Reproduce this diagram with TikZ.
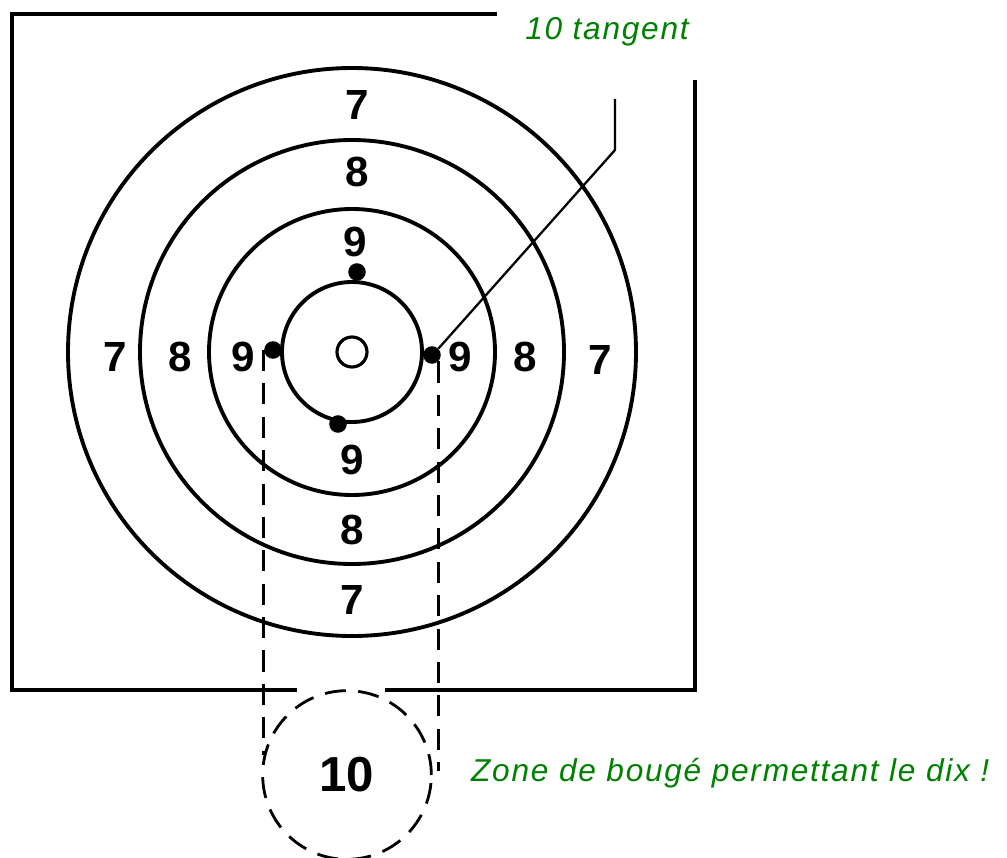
\documentclass[tikz,border=0pt]{standalone}
\usepackage{fontspec}
\setmainfont{Liberation Sans}
\newfontfamily\notefont[LetterSpace=5.5]{Liberation Sans}
\usetikzlibrary{positioning}
\definecolor{notegreen}{RGB}{0,128,0}
\tikzset{
	ring/.style={line width=2.2pt},
	hole/.style={circle, fill, inner sep=0pt, minimum size=10pt},
	score/.style={font=\fontsize{24}{24}\selectfont\bfseries},
	note/.style={font=\notefont\fontsize{18}{18}\selectfont\itshape, text=notegreen},
	guide/.style={line width=1.6pt, dash pattern=on 12pt off 7pt},
}
\begin{document}
\begin{tikzpicture}[x=0.02cm, y=-0.02cm]
	\useasboundingbox (0,0) rectangle (1007,858);
	\draw[ring] (497,14) -- (12,14) -- (12,690) -- (297,690);
	\draw[ring] (385,690) -- (695,690) -- (695,80);
	\foreach \r in {70, 143, 212, 284}
		\draw[ring] (352,352) circle (\r);
	\draw[line width=1.8pt] (352,352) circle (15);
	\foreach \x/\y/\s [count=\i] in {357/105/7, 357/172/8, 355/242/9, 115/357/7, 180/357/8, 243/357/9,
			460/357/9, 525/357/8, 600/360/7, 352/460/9, 352/530/8, 352/600/7}
		\node[score] (score\i) at (\x,\y) {\s};
	\node[hole] (hitT) at (357,272) {};
	\node[hole] (hitL) at (273,350) {};
	\node[hole] (hitR) at (432,355) {};
	\node[hole] (hitB) at (338,424) {};
	\coordinate (bend) at (615,150);
	\coordinate (tip) at (615,99);
	\draw[line width=1.3pt] (hitR.north east) -- (bend) -- (tip);
	\node[guide, draw, circle, minimum size=96pt, inner sep=0pt, font=\fontsize{28}{28}\selectfont\bfseries] (zone) at (347,775) {10};
	\draw[guide] (hitL.west) -- ++(0,405);
	\draw[guide] (hitR.south east) -- ++(0,410);
	\node[note] (tangentNote) at (607,32) {10 tangent};
	\node[note, anchor=west] (zoneNote) at (465,773) {Zone de bougé permettant le dix !};
\end{tikzpicture}
\end{document}
